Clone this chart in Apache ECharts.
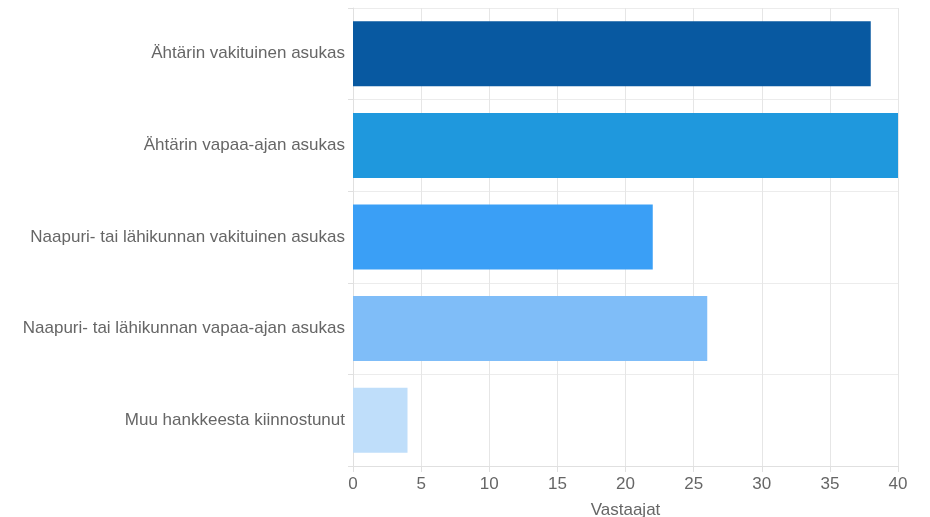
<!DOCTYPE html>
<html>
<head>
<meta charset="utf-8">
<script src="https://cdn.jsdelivr.net/npm/echarts@6/dist/echarts.min.js"></script>
<style>
html,body{margin:0;padding:0;background:#fff;}
#chart{width:930px;height:517px;}
</style>
</head>
<body>
<div id="chart"></div>
<script>
// data
var categories = [
	'Ähtärin vakituinen asukas',
	'Ähtärin vapaa-ajan asukas',
	'Naapuri- tai lähikunnan vakituinen asukas',
	'Naapuri- tai lähikunnan vapaa-ajan asukas',
	'Muu hankkeesta kiinnostunut'
];
var values = [38, 40, 22, 26, 4];
var barColors = ['#0859a1', '#1f98dd', '#3a9ff6', '#7fbdf8', '#bfdefa'];
var xTicks = [0, 5, 10, 15, 20, 25, 30, 35, 40];

var myChart = echarts.init(document.getElementById('chart'));
var option = {
	animation: false,
	textStyle: {fontFamily: '"Liberation Sans", Arial, sans-serif'},
	grid: {left: 353, right: 32, top: 8, bottom: 51, outerBoundsMode: 'none', containLabel: false},
	xAxis: {
		type: 'value',
		min: xTicks[0],
		max: xTicks[xTicks.length - 1],
		interval: 5,
		name: 'Vastaajat',
		nameLocation: 'middle',
		nameGap: 36,
		nameTextStyle: {color: '#666', fontSize: 17},
		axisLine: {show: true, lineStyle: {color: '#e0e0e0'}},
		axisTick: {show: true, length: 6, lineStyle: {color: '#e0e0e0'}},
		axisLabel: {color: '#666', fontSize: 17, margin: 10},
		splitLine: {show: true, lineStyle: {color: '#e6e6e6'}}
	},
	yAxis: {
		type: 'category',
		inverse: true,
		data: categories,
		axisLine: {show: true, lineStyle: {color: '#e0e0e0'}},
		axisTick: {show: true, length: 5, lineStyle: {color: '#e0e0e0'}},
		axisLabel: {color: '#666', fontSize: 17, margin: 8},
		splitLine: {show: true, lineStyle: {color: '#ececec'}}
	},
	series: [{
		type: 'bar',
		barWidth: 65,
		data: values.map(function (v, i) {
			return {value: v, itemStyle: {color: barColors[i]}};
		})
	}]
};
myChart.setOption(option, true);
</script>
</body>
</html>
